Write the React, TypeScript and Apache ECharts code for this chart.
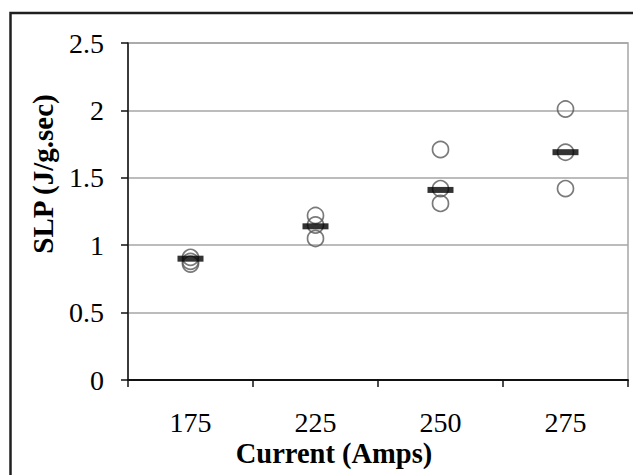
import React, { useEffect, useRef } from "react";
import * as echarts from "echarts";

const categories = ["175", "225", "250", "275"];
const samples175 = [0.91, 0.88, 0.86];
const samples225 = [1.22, 1.15, 1.05];
const samples250 = [1.71, 1.42, 1.31];
const samples275 = [2.01, 1.69, 1.42];
const centerValues = [0.9, 1.14, 1.41, 1.69];
const yTicks = [0, 0.5, 1, 1.5, 2, 2.5];
const xTitle = "Current (Amps)";
const yTitle = "SLP (J/g.sec)";

const FONT = "'Liberation Serif', 'Times New Roman', serif";

export default function App() {
  const ref = useRef<HTMLDivElement>(null);
  useEffect(() => {
    document.body.style.margin = "0";
    if (!ref.current) return;
    const chart = echarts.init(ref.current, null, { renderer: "svg" });
    const groups = [samples175, samples225, samples250, samples275];
    const sampleData: [string, number][] = [];
    groups.forEach((g, i) => g.forEach((v) => sampleData.push([categories[i], v])));
    const centerData = centerValues.map((v, i) => [categories[i], v]);
    chart.setOption({
      animation: false,
      backgroundColor: "#ffffff",
      grid: {
        left: 128,
        right: 5,
        top: 43,
        bottom: 95,
        show: true,
        borderColor: "#a6a6a6",
        borderWidth: 1.5,
        backgroundColor: "transparent",
      },
      xAxis: {
        type: "category",
        data: categories,
        boundaryGap: true,
        axisLine: { lineStyle: { color: "#111", width: 1.8 } },
        axisTick: { show: true, length: 7, interval: 0, lineStyle: { color: "#111", width: 1.5 } },
        axisLabel: { fontFamily: FONT, fontSize: 28, color: "#000", margin: 28 },
        splitLine: { show: false },
      },
      yAxis: {
        type: "value",
        min: yTicks[0],
        max: yTicks[yTicks.length - 1],
        interval: 0.5,
        axisLine: { show: true, lineStyle: { color: "#111", width: 1.5 } },
        axisTick: { show: true, length: 7, lineStyle: { color: "#111", width: 1.5 } },
        axisLabel: { fontFamily: FONT, fontSize: 28, color: "#000", margin: 24 },
        splitLine: { show: true, lineStyle: { color: "#a6a6a6", width: 1.5 } },
      },
      graphic: [
        {
          type: "rect",
          shape: { x: 10.5, y: 13, width: 700, height: 600 },
          style: { fill: "none", stroke: "#1f1f1f", lineWidth: 2.5 },
          silent: true,
        },
        {
          type: "text",
          x: 43,
          y: 174,
          rotation: Math.PI / 2,
          style: {
            text: yTitle,
            fontFamily: FONT,
            fontWeight: "bold",
            fontSize: 29,
            fill: "#000",
            textAlign: "center",
            textVerticalAlign: "middle",
          },
        },
        {
          type: "text",
          x: 334,
          y: 453,
          style: {
            text: xTitle,
            fontFamily: FONT,
            fontWeight: "bold",
            fontSize: 28.5,
            fill: "#000",
            textAlign: "center",
            textVerticalAlign: "middle",
          },
        },
      ],
      series: [
        {
          type: "scatter",
          data: sampleData,
          symbol: "circle",
          symbolSize: 16,
          itemStyle: { color: "rgba(0,0,0,0)", borderColor: "#595959", borderWidth: 1.7 },
          z: 2,
        },
        {
          type: "scatter",
          data: centerData,
          symbol: "rect",
          symbolSize: [26, 6],
          itemStyle: { color: "#000" },
          z: 3,
        },
      ],
    });
    return () => chart.dispose();
  }, []);
  return <div ref={ref} style={{ width: 633, height: 475 }} />;
}
